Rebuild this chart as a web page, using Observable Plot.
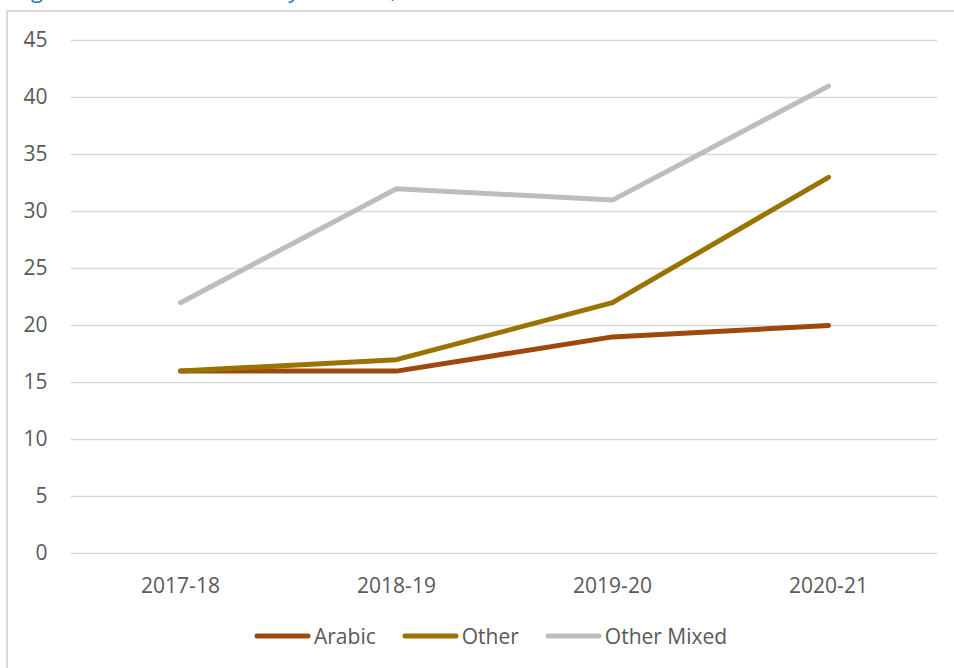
<!DOCTYPE html>
<html>
<head>
<meta charset="utf-8">
<script src="https://cdn.jsdelivr.net/npm/d3@7"></script>
<script src="https://cdn.jsdelivr.net/npm/@observablehq/plot@0.6"></script>
<style>
  html, body { margin: 0; padding: 0; background: #fff; width: 954px; height: 668px; overflow: hidden; }
  #frame { position: absolute; left: 6px; top: 10px; width: 1000px; height: 700px; border-left: 2px solid #d9d9d9; border-top: 2px solid #d9d9d9; }
  #title { position: absolute; left: 0; top: 0; }
  #chart { position: absolute; left: 0; top: 0; }
  #legend { position: absolute; left: 254px; top: 622px; display: flex; align-items: center; font-family: "Open Sans", sans-serif; font-size: 21px; color: #595959; }
  .item { display: flex; align-items: center; margin-right: 26px; }
  .item svg { margin-right: 3px; }
</style>
</head>
<body>
<div id="frame"></div>
<svg id="title" width="954" height="10"><text x="14" y="-2" font-family="Open Sans" font-size="22" fill="#2E75B6">Figure 3: Number of calls by medium, 2017-18 to 2020-21</text></svg>
<div id="chart"></div>
<div id="legend"></div>
<script>
const years = ["2017-18", "2018-19", "2019-20", "2020-21"];
const seriesNames = ["Arabic", "Other", "Other Mixed"];
const arabic = [16, 16, 19, 20];
const other = [16, 17, 22, 33];
const otherMixed = [22, 32, 31, 41];
const colors = ["#9E480E", "#997300", "#BDBDBD"];
const yTicks = [0, 5, 10, 15, 20, 25, 30, 35, 40, 45];

const values = [arabic, other, otherMixed];
const data = [];
seriesNames.forEach((s, i) => years.forEach((yr, j) => data.push({series: s, year: yr, value: values[i][j]})));

const chart = Plot.plot({
  width: 954,
  height: 610,
  marginLeft: 71,
  marginRight: 17,
  marginTop: 40,
  marginBottom: 57,
  style: { fontFamily: "Open Sans", fontSize: "21px", color: "#595959", background: "transparent" },
  x: { type: "point", domain: years, padding: 0.5, label: null },
  y: { domain: [0, 45], label: null },
  color: { domain: seriesNames, range: colors },
  marks: [
    Plot.gridY(yTicks, { stroke: "#d9d9d9", strokeOpacity: 1, strokeWidth: 1.5 }),
    Plot.axisY(yTicks, { tickSize: 0, tickPadding: 24, fill: "#595959", label: null }),
    Plot.axisX({ tickSize: 0, tickPadding: 25, fill: "#595959", label: null }),
    Plot.line(data, { x: "year", y: "value", z: "series", stroke: "series", strokeWidth: 5, strokeLinecap: "round", strokeLinejoin: "round" })
  ]
});
document.getElementById("chart").appendChild(chart);

const legend = document.getElementById("legend");
seriesNames.forEach((s, i) => {
  const item = document.createElement("div");
  item.className = "item";
  item.innerHTML = `<svg width="57" height="10"><line x1="3" y1="5" x2="54" y2="5" stroke="${colors[i]}" stroke-width="5" stroke-linecap="round"/></svg><span>${s}</span>`;
  legend.appendChild(item);
});
</script>
</body>
</html>
